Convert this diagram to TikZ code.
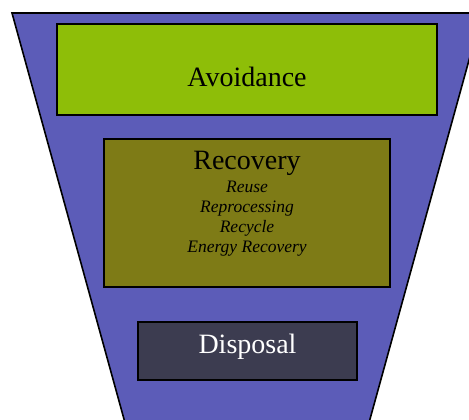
\documentclass[tikz,border=0pt]{standalone}
\usepackage{fontspec}
\setmainfont{Liberation Serif}
\definecolor{funnelblue}{HTML}{5C5CB8}
\definecolor{avoidgreen}{HTML}{8EBE08}
\definecolor{recolive}{HTML}{7E7B16}
\definecolor{dispgray}{HTML}{3C3C50}
\begin{document}
\begin{tikzpicture}[x=1pt, y=-1pt,
    box/.style={draw=black, line width=1.5pt, inner sep=0pt},
    title/.style={font=\fontsize{28}{32}\selectfont, anchor=base, inner sep=0pt},
    item/.style={font=\fontsize{17.5}{20}\selectfont\itshape, anchor=base, inner sep=0pt}]
  \useasboundingbox (0,0) rectangle (469,420);
  \begin{scope}
    \clip (0,0) rectangle (469,420);
    \draw[fill=funnelblue, line width=1.6pt] (12,13) -- (482,13) -- (367,430) -- (127,430) -- cycle;
  \end{scope}
  % boxes
  \node[box, fill=avoidgreen, minimum width=380pt, minimum height=91pt] (avd) at (247,69.5) {};
  \node[box, fill=recolive, minimum width=286pt, minimum height=148pt] (rcv) at (247,213) {};
  \node[box, fill=dispgray, minimum width=219pt, minimum height=58pt] (dsp) at (247.5,351) {};
  % labels
  \node[title] (avdt) at (247,87) {Avoidance};
  \node[title] (rcvt) at (247,169) {Recovery};
  \node[title, text=white] (dspt) at (247.5,353) {Disposal};
  \foreach \y/\txt in {192/Reuse, 212/Reprocessing, 232/Recycle, 252/Energy Recovery}
    \node[item] (itm\y) at (247,\y) {\txt};
\end{tikzpicture}
\end{document}
